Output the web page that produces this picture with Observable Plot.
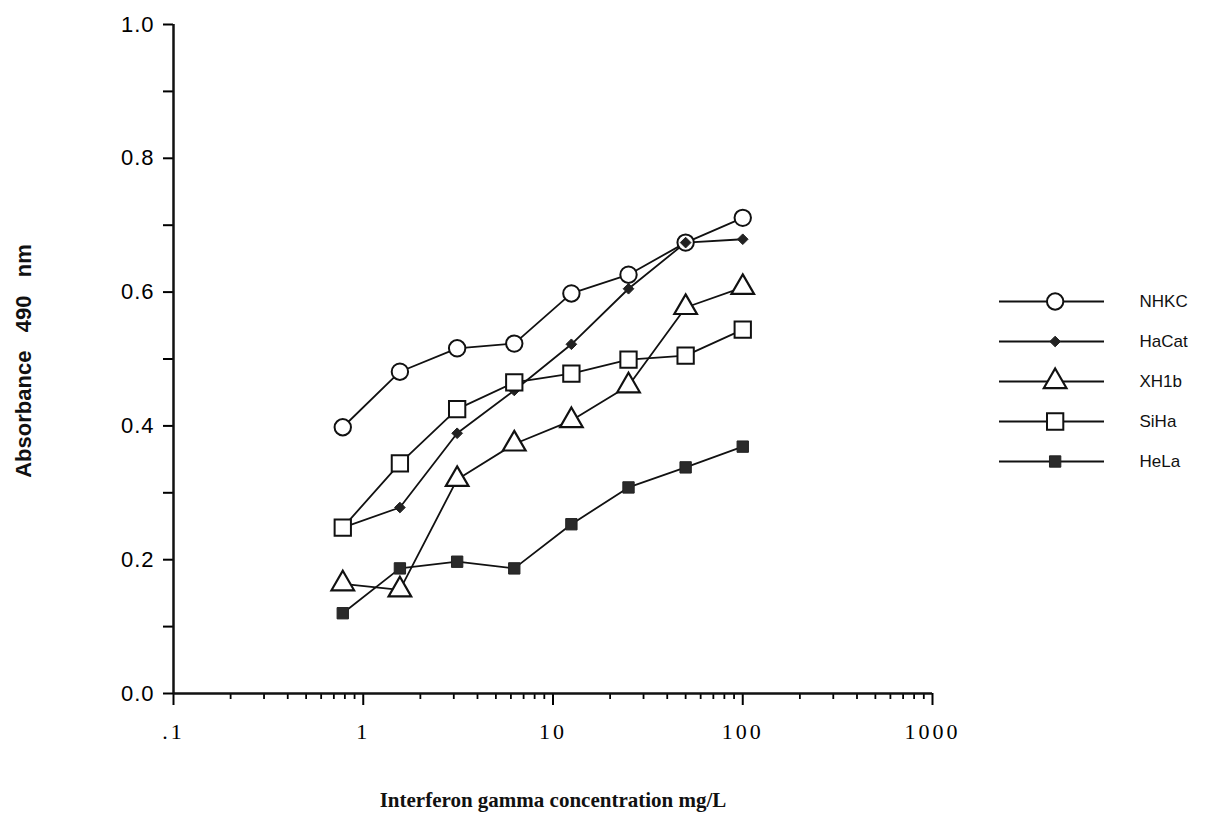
<!DOCTYPE html>
<html>
<head>
<meta charset="utf-8">
<script src="https://cdn.jsdelivr.net/npm/d3@7"></script>
<script src="https://cdn.jsdelivr.net/npm/@observablehq/plot@0.6"></script>
<style>
  body { margin: 0; background: #fff; }
  #wrap { position: relative; width: 1210px; height: 838px; background: #fff; }
  #legend { position: absolute; left: 980px; top: 280px; }
  g[aria-label="x-axis tick label"] { font-family: "Liberation Serif", "Times New Roman", serif; font-size: 22px; letter-spacing: 3px; }
  g[aria-label="y-axis tick label"] { font-family: "Liberation Sans", Arial, sans-serif; font-size: 22px; letter-spacing: 1px; }
  g[aria-label="ylabel"] text { white-space: pre; letter-spacing: 1px; }
</style>
</head>
<body>
<div id="wrap"><div id="legend"></div></div>
<script>
// ---- data ----
const concentrations = [0.78, 1.56, 3.125, 6.25, 12.5, 25, 50, 100];
const seriesNames = ["NHKC", "HaCat", "XH1b", "SiHa", "HeLa"];
const NHKC  = [0.398, 0.481, 0.516, 0.523, 0.598, 0.626, 0.674, 0.711];
const HaCat = [0.248, 0.278, 0.389, 0.453, 0.522, 0.605, 0.674, 0.679];
const XH1b  = [0.164, 0.155, 0.320, 0.373, 0.408, 0.460, 0.577, 0.607];
const SiHa  = [0.248, 0.344, 0.425, 0.465, 0.478, 0.499, 0.505, 0.544];
const HeLa  = [0.120, 0.187, 0.197, 0.187, 0.253, 0.308, 0.338, 0.369];

const xTickValues = [0.1, 1, 10, 100, 1000];
const xTickLabels = [".1", "1", "10", "100", "1000"];
const xMinorMultipliers = [2, 3, 4, 5, 6, 7, 8, 9];
const yTickValues = [0, 0.2, 0.4, 0.6, 0.8, 1.0];
const yTickLabels = ["0.0", "0.2", "0.4", "0.6", "0.8", "1.0"];
const yMinorTicks = [0.1, 0.3, 0.5, 0.7, 0.9];

const xLabel = "Interferon gamma concentration mg/L";
const yLabel = "Absorbance   490   nm";

// ---- styles (kept apart from data) ----
const seriesValues = {NHKC, HaCat, XH1b, SiHa, HeLa};
const markerStyle = {
  NHKC:  {symbol: "circle",   r: 8.2, fill: "white", stroke: "#111", strokeWidth: 2},
  HaCat: {symbol: "diamond2", r: 4.8, fill: "#222",  stroke: "#222", strokeWidth: 1},
  XH1b:  {symbol: "triangle", r: 8.4, fill: "white", stroke: "#111", strokeWidth: 2.2},
  SiHa:  {symbol: "square",   r: 9.2, fill: "white", stroke: "#111", strokeWidth: 2},
  HeLa:  {symbol: "square",   r: 6.4, fill: "#2a2a2a", stroke: "#222", strokeWidth: 1}
};
const drawOrder = ["NHKC", "XH1b", "HeLa", "HaCat", "SiHa"];

const rows = seriesNames.flatMap(s =>
  concentrations.map((c, i) => ({series: s, conc: c, value: seriesValues[s][i]})));

const xMinorTicks = xTickValues.slice(0, -1).flatMap(d => xMinorMultipliers.map(k => d * k));

const sans = "'Liberation Sans', Arial, Helvetica, sans-serif";
const serif = "'Liberation Serif', 'Times New Roman', serif";

const chart = Plot.plot({
  width: 1210,
  height: 838,
  marginLeft: 173,
  marginRight: 278,
  marginTop: 24,
  marginBottom: 145,
  x: {type: "log", domain: [0.1, 1000]},
  y: {domain: [0, 1]},
  marks: [
    Plot.axisX({ticks: xMinorTicks, tickSize: 6, tickFormat: () => "", label: null, strokeWidth: 1.8}),
    Plot.axisX({ticks: xTickValues, tickSize: 12, tickPadding: 18, label: null, strokeWidth: 2,
      tickFormat: d => xTickLabels[xTickValues.indexOf(d)]}),
    Plot.axisY({ticks: yMinorTicks, tickSize: 10, tickFormat: () => "", label: null, strokeWidth: 2}),
    Plot.axisY({ticks: yTickValues, tickSize: 10, tickPadding: 9, label: null, strokeWidth: 2,
      tickFormat: d => yTickLabels[yTickValues.indexOf(d)]}),
    Plot.ruleY([0], {stroke: "#111", strokeWidth: 2.5}),
    Plot.ruleX([0.1], {y1: 0, y2: 1, stroke: "#111", strokeWidth: 2.5}),
    Plot.line(rows, {x: "conc", y: "value", z: "series", stroke: "#111", strokeWidth: 1.8}),
    ...drawOrder.map(s => Plot.dot(rows.filter(d => d.series === s), {
      x: "conc", y: "value", ...markerStyle[s]
    })),
    Plot.text([yLabel], {text: d => d, frameAnchor: "left", textAnchor: "middle", rotate: -90, dx: -150, dy: 2,
      fontSize: 22, fontWeight: "bold", fontFamily: sans, fill: "#111", ariaLabel: "ylabel"}),
    Plot.text([xLabel], {text: d => d, frameAnchor: "bottom", dy: 113,
      fontSize: 21, fontWeight: "bold", fontFamily: serif, fill: "#111"})
  ]
});
document.getElementById("wrap").prepend(chart);

const legend = Plot.plot({
  width: 230,
  height: 200,
  margin: 0,
  x: {domain: [0, 1], range: [19, 124], axis: null},
  y: {type: "point", domain: seriesNames, range: [20, 181], padding: 0, axis: null},
  marks: [
    Plot.ruleY(seriesNames, {y: d => d, x1: 0, x2: 1, stroke: "#111", strokeWidth: 1.8}),
    ...seriesNames.map(s => Plot.dot([s], {y: d => d, x: 0.53, ...markerStyle[s]})),
    Plot.text(seriesNames, {y: d => d, x: 1, dx: 35, text: d => d, textAnchor: "start",
      fontSize: 17, fontFamily: sans, fill: "#111"})
  ]
});
document.getElementById("legend").append(legend);
</script>
</body>
</html>
